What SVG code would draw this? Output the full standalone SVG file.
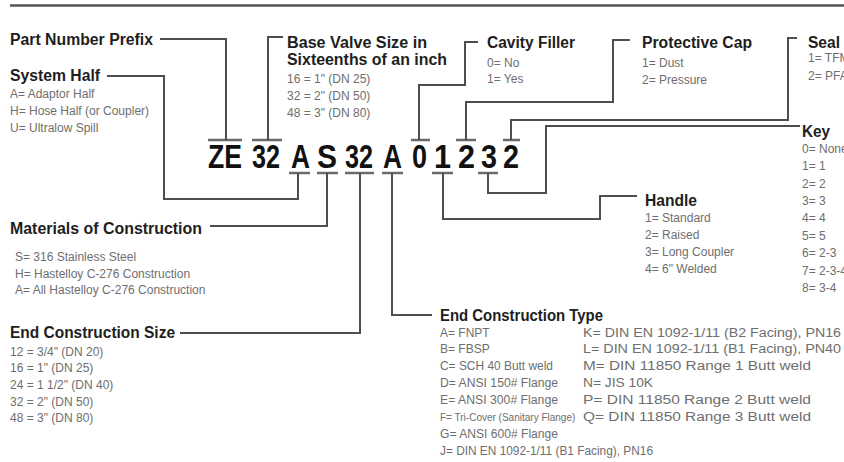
<svg xmlns="http://www.w3.org/2000/svg" width="844" height="462" viewBox="0 0 844 462">
<style>
.h{font-family:"Liberation Sans",Arial,sans-serif;font-weight:bold;font-size:16px;fill:#1e1e1e}
.t{font-family:"Liberation Sans",Arial,sans-serif;font-size:12px;fill:#6e6e6e}
.c{font-family:"Liberation Sans",Arial,sans-serif;font-weight:bold;font-size:33px;fill:#111}
.ln{fill:none;stroke:#4e4e4e;stroke-width:2}
.bar{stroke:#6a6a6a;stroke-width:2.5}
</style>
<rect width="844" height="462" fill="#fff"/>
<line x1="10" y1="5.5" x2="844" y2="5.5" stroke="#555" stroke-width="2.5"/>

<g id="code">
<text class="c" x="208" y="168" textLength="34" lengthAdjust="spacingAndGlyphs">ZE</text>
<text class="c" x="252" y="168" textLength="28" lengthAdjust="spacingAndGlyphs">32</text>
<text class="c" x="291" y="168" textLength="19" lengthAdjust="spacingAndGlyphs">A</text>
<text class="c" x="317" y="168" textLength="20" lengthAdjust="spacingAndGlyphs">S</text>
<text class="c" x="345" y="168" textLength="28" lengthAdjust="spacingAndGlyphs">32</text>
<text class="c" x="383" y="168" textLength="19" lengthAdjust="spacingAndGlyphs">A</text>
<text class="c" x="412" y="168" textLength="15" lengthAdjust="spacingAndGlyphs">0</text>
<text class="c" x="434" y="168" textLength="17" lengthAdjust="spacingAndGlyphs">1</text>
<text class="c" x="458" y="168" textLength="17" lengthAdjust="spacingAndGlyphs">2</text>
<text class="c" x="481" y="168" textLength="16" lengthAdjust="spacingAndGlyphs">3</text>
<text class="c" x="503" y="168" textLength="16" lengthAdjust="spacingAndGlyphs">2</text>
<line class="bar" x1="208" y1="140" x2="242" y2="140"/>
<line class="bar" x1="252" y1="140" x2="282" y2="140"/>
<line class="bar" x1="411" y1="140" x2="430" y2="140"/>
<line class="bar" x1="456" y1="140" x2="476" y2="140"/>
<line class="bar" x1="503" y1="140" x2="520" y2="140"/>
<line class="bar" x1="289" y1="173" x2="310" y2="173"/>
<line class="bar" x1="317" y1="173" x2="338" y2="173"/>
<line class="bar" x1="345" y1="173" x2="374" y2="173"/>
<line class="bar" x1="382" y1="173" x2="403" y2="173"/>
<line class="bar" x1="432" y1="173" x2="453" y2="173"/>
<line class="bar" x1="478" y1="173" x2="498" y2="173"/>
</g>

<g id="connectors">
<path class="ln" d="M160,39 H226 V140"/>
<path class="ln" d="M283,37 H268 V140"/>
<path class="ln" d="M107,76 H164 V199 H298 V173"/>
<path class="ln" d="M210,226 H327 V173"/>
<path class="ln" d="M180,333 H360 V173"/>
<path class="ln" d="M392,173 V315 H432"/>
<path class="ln" d="M419,140 V85 H465 V42 H478"/>
<path class="ln" d="M443,173 V219 H600 V196 H637"/>
<path class="ln" d="M466,140 V102 H613 V40 H630"/>
<path class="ln" d="M488,173 V193 H546 V126 H800"/>
<path class="ln" d="M511,140 V120 H788 V38 H797"/>
</g>

<g id="part-number-prefix">
<text class="h" x="10" y="45" textLength="143" lengthAdjust="spacingAndGlyphs">Part Number Prefix</text>
</g>

<g id="system-half">
<text class="h" x="10" y="81" textLength="90" lengthAdjust="spacingAndGlyphs">System Half</text>
<text class="t" x="10" y="98">A= Adaptor Half</text>
<text class="t" x="10" y="115">H= Hose Half (or Coupler)</text>
<text class="t" x="10" y="132">U= Ultralow Spill</text>
</g>

<g id="base-valve-size">
<text class="h" x="287" y="48" textLength="140" lengthAdjust="spacingAndGlyphs">Base Valve Size in</text>
<text class="h" x="287" y="65" textLength="160" lengthAdjust="spacingAndGlyphs">Sixteenths of an inch</text>
<text class="t" x="287" y="83">16 = 1" (DN 25)</text>
<text class="t" x="287" y="100">32 = 2" (DN 50)</text>
<text class="t" x="287" y="117">48 = 3" (DN 80)</text>
</g>

<g id="cavity-filler">
<text class="h" x="487" y="48" textLength="88" lengthAdjust="spacingAndGlyphs">Cavity Filler</text>
<text class="t" x="487" y="67">0= No</text>
<text class="t" x="487" y="83">1= Yes</text>
</g>

<g id="protective-cap">
<text class="h" x="642" y="48" textLength="110" lengthAdjust="spacingAndGlyphs">Protective Cap</text>
<text class="t" x="642" y="67">1= Dust</text>
<text class="t" x="642" y="84">2= Pressure</text>
</g>

<g id="seal">
<text class="h" x="808" y="48" textLength="32" lengthAdjust="spacingAndGlyphs">Seal</text>
<text class="t" x="808" y="62">1= TFM</text>
<text class="t" x="808" y="80">2= PFA</text>
</g>

<g id="key">
<text class="h" x="802" y="137" textLength="28" lengthAdjust="spacingAndGlyphs">Key</text>
<text class="t" x="802" y="153">0= None</text>
<text class="t" x="802" y="170">1= 1</text>
<text class="t" x="802" y="188">2= 2</text>
<text class="t" x="802" y="205">3= 3</text>
<text class="t" x="802" y="222">4= 4</text>
<text class="t" x="802" y="240">5= 5</text>
<text class="t" x="802" y="257">6= 2-3</text>
<text class="t" x="802" y="275">7= 2-3-4</text>
<text class="t" x="802" y="292">8= 3-4</text>
</g>

<g id="handle">
<text class="h" x="645" y="206" textLength="52" lengthAdjust="spacingAndGlyphs">Handle</text>
<text class="t" x="645" y="222">1= Standard</text>
<text class="t" x="645" y="239">2= Raised</text>
<text class="t" x="645" y="256">3= Long Coupler</text>
<text class="t" x="645" y="273">4= 6" Welded</text>
</g>

<g id="materials-of-construction">
<text class="h" x="10" y="234" textLength="192" lengthAdjust="spacingAndGlyphs">Materials of Construction</text>
<text class="t" x="15" y="261">S= 316 Stainless Steel</text>
<text class="t" x="15" y="278">H= Hastelloy C-276 Construction</text>
<text class="t" x="15" y="294">A= All Hastelloy C-276 Construction</text>
</g>

<g id="end-construction-size">
<text class="h" x="10" y="338" textLength="165" lengthAdjust="spacingAndGlyphs">End Construction Size</text>
<text class="t" x="10" y="356">12 = 3/4" (DN 20)</text>
<text class="t" x="10" y="372">16 = 1" (DN 25)</text>
<text class="t" x="10" y="389">24 = 1 1/2" (DN 40)</text>
<text class="t" x="10" y="406">32 = 2" (DN 50)</text>
<text class="t" x="10" y="422">48 = 3" (DN 80)</text>
</g>

<g id="end-construction-type">
<text class="h" x="440" y="321" textLength="163" lengthAdjust="spacingAndGlyphs">End Construction Type</text>
<text class="t" x="440" y="337">A= FNPT</text>
<text class="t" x="440" y="353">B= FBSP</text>
<text class="t" x="440" y="370" textLength="113" lengthAdjust="spacingAndGlyphs">C= SCH 40 Butt weld</text>
<text class="t" x="440" y="387" textLength="118" lengthAdjust="spacingAndGlyphs">D= ANSI 150# Flange</text>
<text class="t" x="440" y="404" textLength="118" lengthAdjust="spacingAndGlyphs">E= ANSI 300# Flange</text>
<text class="t" x="440" y="421" style="font-size:10px">F= Tri-Cover (Sanitary Flange)</text>
<text class="t" x="440" y="438" textLength="118" lengthAdjust="spacingAndGlyphs">G= ANSI 600# Flange</text>
<text class="t" x="440" y="455" textLength="213" lengthAdjust="spacingAndGlyphs">J= DIN EN 1092-1/11 (B1 Facing), PN16</text>
<text class="t" x="583" y="337" textLength="258" lengthAdjust="spacingAndGlyphs">K= DIN EN 1092-1/11 (B2 Facing), PN16</text>
<text class="t" x="583" y="353" textLength="258" lengthAdjust="spacingAndGlyphs">L= DIN EN 1092-1/11 (B1 Facing), PN40</text>
<text class="t" x="583" y="370" textLength="228" lengthAdjust="spacingAndGlyphs">M= DIN 11850 Range 1 Butt weld</text>
<text class="t" x="583" y="387" textLength="70" lengthAdjust="spacingAndGlyphs">N= JIS 10K</text>
<text class="t" x="583" y="404" textLength="228" lengthAdjust="spacingAndGlyphs">P= DIN 11850 Range 2 Butt weld</text>
<text class="t" x="583" y="421" textLength="228" lengthAdjust="spacingAndGlyphs">Q= DIN 11850 Range 3 Butt weld</text>
</g>
</svg>
